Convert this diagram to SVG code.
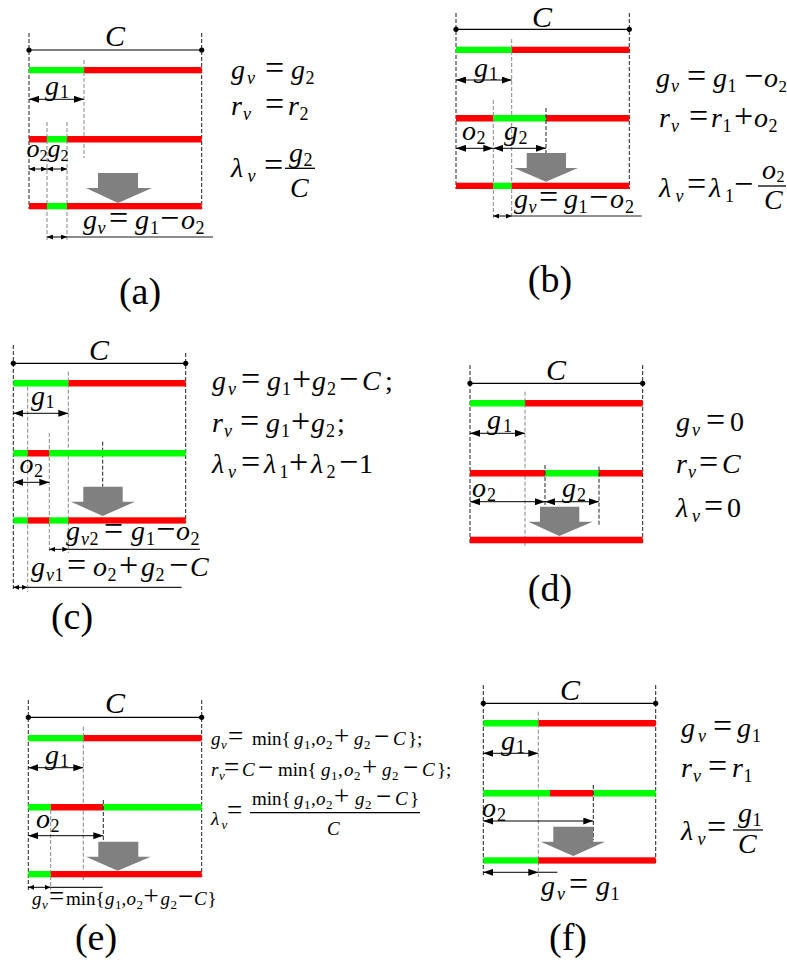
<svg xmlns="http://www.w3.org/2000/svg" width="787" height="962" viewBox="0 0 787 962">
<defs>
<marker id="ah" viewBox="0 0 10 7" refX="10" refY="3.5" markerWidth="10" markerHeight="7" markerUnits="userSpaceOnUse" orient="auto-start-reverse"><path d="M0,0 L10,3.5 L0,7 Z" fill="#000"/></marker>
<marker id="ahs" viewBox="0 0 6 5" refX="6" refY="2.5" markerWidth="6" markerHeight="5" markerUnits="userSpaceOnUse" orient="auto-start-reverse"><path d="M0,0 L6,2.5 L0,5 Z" fill="#000"/></marker>
<style>
.g{fill:#00ff00}
.r{fill:#ff0000}
.db{stroke:#222;stroke-width:1;stroke-dasharray:4 2;fill:none}
.di{stroke:#888;stroke-width:1;stroke-dasharray:4 2;fill:none}
.ck{stroke:#000;stroke-width:1.3}
.cg{stroke:#555;stroke-width:1.5}
.dot{fill:#000}
.ar{stroke:#000;stroke-width:1;marker-start:url(#ah);marker-end:url(#ah)}
.as{stroke:#000;stroke-width:1;marker-start:url(#ahs);marker-end:url(#ahs)}
.ln{stroke:#222;stroke-width:1.2}
.lg{stroke:#666;stroke-width:1.3}
.big{fill:#808080}
.fr{stroke:#000;stroke-width:1.3}
.eq{font-family:"Liberation Serif","Times New Roman",serif;font-size:28px;fill:#000}
.i{font-style:italic}
.s{font-size:18px}
.op{font-size:34px}
.sm{font-family:"Liberation Serif","Times New Roman",serif;font-size:19px;fill:#000}
.ss{font-size:13px}
.op2{font-size:27px}
.lbl{font-family:"Liberation Serif","Times New Roman",serif;font-size:30px;font-style:italic;text-anchor:middle}
.cap{font-family:"Liberation Serif","Times New Roman",serif;font-size:38px;text-anchor:middle}
</style>
</defs>

<!-- ================= (a) ================= -->
<g id="panel-a">
  <line class="db" x1="29" y1="33" x2="29" y2="209"/>
  <line class="db" x1="201.7" y1="33" x2="201.7" y2="209"/>
  <line class="cg" x1="29" y1="50" x2="201.7" y2="50"/>
  <circle class="dot" cx="29" cy="50" r="2.6"/><circle class="dot" cx="201.7" cy="50" r="2.6"/>
  <text class="lbl" x="115" y="45.5">C</text>
  <rect class="g" x="29" y="67" width="55" height="6.3"/><rect class="r" x="84" y="67" width="117.7" height="6.3"/>
  <line class="di" x1="84" y1="60" x2="84" y2="158"/>
  <line class="ar" x1="29" y1="99.3" x2="84" y2="99.3"/>
  <text class="eq"><tspan class="i" x="45" y="95">g</tspan><tspan class="s" x="60" y="98">1</tspan></text>
  <rect class="r" x="29" y="136" width="18" height="6.5"/><rect class="g" x="47" y="136" width="20" height="6.5"/><rect class="r" x="67" y="136" width="134.7" height="6.5"/>
  <line class="di" x1="47" y1="122" x2="47" y2="240"/>
  <line class="di" x1="67" y1="122" x2="67" y2="240"/>
  <text class="eq" style="font-size:26px"><tspan class="i" x="26.5" y="157">o</tspan><tspan style="font-size:16px" x="39.5" y="161">2</tspan><tspan class="i" x="47.5" y="157">g</tspan><tspan style="font-size:16px" x="60.5" y="161">2</tspan></text>
  <line class="as" x1="29" y1="169" x2="47" y2="169"/>
  <line class="as" x1="47" y1="169" x2="67" y2="169"/>
  <path class="big" d="M98,173 H138 V188 H152 L118,203 L86,188 H98 Z"/>
  <rect class="r" x="29" y="203" width="18" height="6.3"/><rect class="g" x="47" y="203" width="20" height="6.3"/><rect class="r" x="67" y="203" width="134.7" height="6.3"/>
  <line class="as" x1="47" y1="237" x2="67" y2="237"/>
  <line class="lg" x1="67" y1="237" x2="213" y2="237"/>
  <text class="eq"><tspan class="i" x="83" y="229">g</tspan><tspan class="i s" x="97.5" y="234">v</tspan><tspan class="op" x="109" y="229">=</tspan><tspan class="i" x="135" y="229">g</tspan><tspan class="s" x="150" y="234">1</tspan><tspan class="op" x="160" y="229">−</tspan><tspan class="i" x="181" y="229">o</tspan><tspan class="s" x="195.5" y="234">2</tspan></text>
  <text class="eq"><tspan class="i" x="231" y="79">g</tspan><tspan class="i s" x="247" y="84">v</tspan><tspan class="op" x="265" y="79">=</tspan><tspan class="i" x="291" y="79">g</tspan><tspan class="s" x="305.5" y="84">2</tspan></text>
  <text class="eq"><tspan class="i" x="231" y="115">r</tspan><tspan class="i s" x="243" y="120">v</tspan><tspan class="op" x="265" y="115">=</tspan><tspan class="i" x="288" y="115">r</tspan><tspan class="s" x="299.5" y="120">2</tspan></text>
  <text class="eq"><tspan class="i" x="231" y="177">λ</tspan><tspan class="i s" x="247.5" y="182">v</tspan><tspan class="op" x="264" y="176">=</tspan><tspan class="i" x="289" y="162">g</tspan><tspan class="s" x="303.5" y="166">2</tspan><tspan class="i" x="290" y="197">C</tspan></text>
  <line class="fr" x1="285" y1="168.3" x2="315" y2="168.3"/>
  <text class="cap" x="140" y="304">(a)</text>
</g>

<!-- ================= (b) ================= -->
<g id="panel-b">
  <line class="db" x1="456" y1="13" x2="456" y2="189"/>
  <line class="db" x1="629.3" y1="13" x2="629.3" y2="189"/>
  <line class="ck" x1="456" y1="29.3" x2="629.3" y2="29.3"/>
  <circle class="dot" cx="456" cy="29.3" r="2.6"/><circle class="dot" cx="629.3" cy="29.3" r="2.6"/>
  <text class="lbl" x="542" y="27">C</text>
  <rect class="g" x="456" y="46.7" width="55.7" height="6.3"/><rect class="r" x="511.7" y="46.7" width="117.6" height="6.3"/>
  <line class="di" x1="511.7" y1="39" x2="511.7" y2="218"/>
  <line class="ar" x1="456" y1="80" x2="511.7" y2="80"/>
  <text class="eq"><tspan class="i" x="474" y="77">g</tspan><tspan class="s" x="489" y="80">1</tspan></text>
  <rect class="r" x="456" y="115" width="37.3" height="6.5"/><rect class="g" x="493.3" y="115" width="52.7" height="6.5"/><rect class="r" x="546" y="115" width="83.3" height="6.5"/>
  <line class="di" x1="493.3" y1="100" x2="493.3" y2="220"/>
  <line class="db" x1="546" y1="108" x2="546" y2="153"/>
  <text class="eq"><tspan class="i" x="462" y="140">o</tspan><tspan class="s" x="476.5" y="144">2</tspan><tspan class="i" x="504" y="140">g</tspan><tspan class="s" x="518.5" y="144">2</tspan></text>
  <line class="ar" x1="456" y1="148.3" x2="493.3" y2="148.3"/>
  <line class="ar" x1="493.3" y1="148.3" x2="546" y2="148.3"/>
  <path class="big" d="M526.7,153 H566 V168 H578 L546,181.7 L514,168 H526.7 Z"/>
  <rect class="r" x="456" y="182.7" width="37.3" height="6.3"/><rect class="g" x="493.3" y="182.7" width="18.4" height="6.3"/><rect class="r" x="511.7" y="182.7" width="117.6" height="6.3"/>
  <line class="as" x1="493.3" y1="216" x2="511.7" y2="216"/>
  <line class="ln" x1="511.7" y1="216" x2="641.7" y2="216"/>
  <text class="eq"><tspan class="i" x="514" y="208">g</tspan><tspan class="i s" x="528.5" y="213">v</tspan><tspan class="op" x="539" y="208">=</tspan><tspan class="i" x="564" y="208">g</tspan><tspan class="s" x="578.5" y="213">1</tspan><tspan class="op" x="589" y="208">−</tspan><tspan class="i" x="610" y="208">o</tspan><tspan class="s" x="625" y="213">2</tspan></text>
  <text class="eq"><tspan class="i" x="656" y="87">g</tspan><tspan class="i s" x="671" y="92">v</tspan><tspan class="op" x="687" y="87">=</tspan><tspan class="i" x="713" y="87">g</tspan><tspan class="s" x="727.5" y="92">1</tspan><tspan class="op" x="744" y="87">−</tspan><tspan class="i" x="764" y="87">o</tspan><tspan class="s" x="778.5" y="92" style="font-size:17px">2</tspan></text>
  <text class="eq"><tspan class="i" x="659" y="127">r</tspan><tspan class="i s" x="671" y="132">v</tspan><tspan class="op" x="689" y="127">=</tspan><tspan class="i" x="711" y="127">r</tspan><tspan class="s" x="722.5" y="132">1</tspan><tspan class="op" x="734" y="127">+</tspan><tspan class="i" x="754" y="127">o</tspan><tspan class="s" x="768.5" y="132">2</tspan></text>
  <text class="eq"><tspan class="i" x="659" y="197">λ</tspan><tspan class="i s" x="675.5" y="202">v</tspan><tspan class="op" x="687" y="195">=</tspan><tspan class="i" x="709" y="197">λ</tspan><tspan class="s" x="725" y="202">1</tspan><tspan class="op" x="734" y="195">−</tspan><tspan class="i" x="762" y="179">o</tspan><tspan class="s" x="776.5" y="182" style="font-size:16px">2</tspan><tspan class="i" x="764" y="209">C</tspan></text>
  <line class="fr" x1="758" y1="186" x2="786" y2="186"/>
  <text class="cap" x="550" y="292">(b)</text>
</g>

<!-- ================= (c) ================= -->
<g id="panel-c">
  <line class="db" x1="13.3" y1="345" x2="13.3" y2="591"/>
  <line class="db" x1="185.7" y1="353" x2="185.7" y2="523"/>
  <line class="ck" x1="13.3" y1="363.3" x2="185.7" y2="363.3"/>
  <circle class="dot" cx="13.3" cy="363.3" r="2.6"/><circle class="dot" cx="185.7" cy="363.3" r="2.6"/>
  <text class="lbl" x="99" y="360">C</text>
  <rect class="g" x="13.3" y="380" width="55" height="6.5"/><rect class="r" x="68.3" y="380" width="117.4" height="6.5"/>
  <line class="di" x1="68.3" y1="371.7" x2="68.3" y2="553"/>
  <line class="di" x1="27.7" y1="386.7" x2="27.7" y2="592"/>
  <line class="di" x1="49.3" y1="433" x2="49.3" y2="553"/>
  <line class="db" x1="102.7" y1="441.7" x2="102.7" y2="486.7"/>
  <line class="ar" x1="13.3" y1="413.3" x2="68.3" y2="413.3"/>
  <text class="eq"><tspan class="i" x="31" y="405">g</tspan><tspan class="s" x="45.5" y="408">1</tspan></text>
  <rect class="g" x="13.3" y="450" width="14.4" height="6.5"/><rect class="r" x="27.7" y="450" width="21.6" height="6.5"/><rect class="g" x="49.3" y="450" width="136.4" height="6.5"/>
  <text class="eq"><tspan class="i" x="19.5" y="473">o</tspan><tspan class="s" x="34" y="477">2</tspan></text>
  <line class="ar" x1="13.3" y1="482.3" x2="49.3" y2="482.3"/>
  <path class="big" d="M83.3,486.7 H122.7 V501.7 H135 L102.7,516 L71,501.7 H83.3 Z"/>
  <rect class="g" x="13.3" y="517.3" width="14.4" height="6.3"/><rect class="r" x="27.7" y="517.3" width="21.6" height="6.3"/><rect class="g" x="49.3" y="517.3" width="19" height="6.3"/><rect class="r" x="68.3" y="517.3" width="117.4" height="6.3"/>
  <line class="as" x1="49.3" y1="549.3" x2="68.3" y2="549.3"/>
  <line class="ln" x1="68.3" y1="549.3" x2="200" y2="549.3"/>
  <text class="eq"><tspan class="i" x="66" y="540">g</tspan><tspan class="i s" x="81" y="545">v</tspan><tspan class="s" x="89.5" y="545">2</tspan><tspan class="op" x="104" y="540">=</tspan><tspan class="i" x="131" y="540">g</tspan><tspan class="s" x="146" y="545">1</tspan><tspan class="op" x="156" y="540">−</tspan><tspan class="i" x="176" y="540">o</tspan><tspan class="s" x="190.5" y="545">2</tspan></text>
  <line class="as" x1="13.3" y1="587.3" x2="27.7" y2="587.3"/>
  <line class="ln" x1="27.7" y1="587.3" x2="181.7" y2="587.3"/>
  <text class="eq"><tspan class="i" x="31" y="576">g</tspan><tspan class="i s" x="46" y="581">v</tspan><tspan class="s" x="54.5" y="581">1</tspan><tspan class="op" x="67" y="576">=</tspan><tspan class="i" x="93" y="576">o</tspan><tspan class="s" x="107.5" y="581">2</tspan><tspan class="op" x="119" y="576">+</tspan><tspan class="i" x="141" y="576">g</tspan><tspan class="s" x="155.5" y="581">2</tspan><tspan class="op" x="169" y="576">−</tspan><tspan class="i" x="190" y="576">C</tspan></text>
  <text class="eq"><tspan class="i" x="212" y="390">g</tspan><tspan class="i s" x="228" y="395">v</tspan><tspan class="op" x="241" y="390">=</tspan><tspan class="i" x="267" y="390">g</tspan><tspan class="s" x="282" y="395">1</tspan><tspan class="op" x="292" y="390">+</tspan><tspan class="i" x="312" y="390">g</tspan><tspan class="s" x="327" y="395">2</tspan><tspan class="op" x="339" y="390">−</tspan><tspan class="i" x="362" y="390">C</tspan><tspan x="385" y="390">;</tspan></text>
  <text class="eq"><tspan class="i" x="212" y="432">r</tspan><tspan class="i s" x="224" y="437">v</tspan><tspan class="op" x="240" y="432">=</tspan><tspan class="i" x="266" y="432">g</tspan><tspan class="s" x="281" y="437">1</tspan><tspan class="op" x="291" y="432">+</tspan><tspan class="i" x="311" y="432">g</tspan><tspan class="s" x="326" y="437">2</tspan><tspan x="337" y="432">;</tspan></text>
  <text class="eq"><tspan class="i" x="212" y="473">λ</tspan><tspan class="i s" x="228" y="478">v</tspan><tspan class="op" x="241" y="473">=</tspan><tspan class="i" x="264" y="473">λ</tspan><tspan class="s" x="279.5" y="478">1</tspan><tspan class="op" x="289" y="473">+</tspan><tspan class="i" x="311" y="473">λ</tspan><tspan class="s" x="326.5" y="478">2</tspan><tspan class="op" x="339" y="473">−</tspan><tspan x="359" y="473">1</tspan></text>
  <text class="cap" x="72" y="629">(c)</text>
</g>

<!-- ================= (d) ================= -->
<g id="panel-d">
  <line class="db" x1="470" y1="365" x2="470" y2="543"/>
  <line class="db" x1="642.7" y1="365" x2="642.7" y2="543"/>
  <line class="ck" x1="470" y1="383.3" x2="642.7" y2="383.3"/>
  <circle class="dot" cx="470" cy="383.3" r="2.6"/><circle class="dot" cx="642.7" cy="383.3" r="2.6"/>
  <text class="lbl" x="556" y="380">C</text>
  <rect class="g" x="470" y="400" width="55" height="6.5"/><rect class="r" x="525" y="400" width="117.7" height="6.5"/>
  <line class="di" x1="525" y1="391.7" x2="525" y2="546.7"/>
  <line class="ar" x1="470" y1="433.3" x2="525" y2="433.3"/>
  <text class="eq"><tspan class="i" x="487" y="429">g</tspan><tspan class="s" x="503" y="432">1</tspan></text>
  <rect class="r" x="470" y="470" width="75" height="6.5"/><rect class="g" x="545" y="470" width="54" height="6.5"/><rect class="r" x="599" y="470" width="43.7" height="6.5"/>
  <line class="db" x1="545" y1="465" x2="545" y2="506.7"/>
  <line class="db" x1="599" y1="466.7" x2="599" y2="525"/>
  <text class="eq"><tspan class="i" x="472" y="497">o</tspan><tspan class="s" x="487" y="501">2</tspan><tspan class="i" x="562" y="497">g</tspan><tspan class="s" x="577" y="501">2</tspan></text>
  <line class="ar" x1="470" y1="501.7" x2="545" y2="501.7"/>
  <line class="ar" x1="545" y1="501.7" x2="599" y2="501.7"/>
  <path class="big" d="M540,506.7 H579.3 V521.7 H592.7 L559.3,536 L528.3,521.7 H540 Z"/>
  <rect class="r" x="470" y="536.7" width="172.7" height="6.6"/>
  <text class="eq"><tspan class="i" x="676" y="431">g</tspan><tspan class="i s" x="692" y="436">v</tspan><tspan class="op" x="706" y="431">=</tspan><tspan x="730" y="431">0</tspan></text>
  <text class="eq"><tspan class="i" x="676" y="473">r</tspan><tspan class="i s" x="688" y="478">v</tspan><tspan class="op" x="699" y="473">=</tspan><tspan class="i" x="722" y="473">C</tspan></text>
  <text class="eq"><tspan class="i" x="676" y="517">λ</tspan><tspan class="i s" x="692" y="522">v</tspan><tspan class="op" x="704" y="517">=</tspan><tspan x="727" y="517">0</tspan></text>
  <text class="cap" x="550" y="601">(d)</text>
</g>

<!-- ================= (e) ================= -->
<g id="panel-e">
  <line class="db" x1="28.3" y1="700" x2="28.3" y2="890"/>
  <line class="db" x1="201.7" y1="700" x2="201.7" y2="877"/>
  <line class="ck" x1="28.3" y1="717.3" x2="201.7" y2="717.3"/>
  <circle class="dot" cx="28.3" cy="717.3" r="2.6"/><circle class="dot" cx="201.7" cy="717.3" r="2.6"/>
  <text class="lbl" x="115" y="713">C</text>
  <rect class="g" x="28.3" y="735" width="55" height="6.3"/><rect class="r" x="83.3" y="735" width="118.4" height="6.3"/>
  <line class="di" x1="83.3" y1="726.7" x2="83.3" y2="880"/>
  <line class="ar" x1="28.3" y1="767.7" x2="83.3" y2="767.7"/>
  <text class="eq"><tspan class="i" x="45" y="764">g</tspan><tspan class="s" x="60" y="767">1</tspan></text>
  <rect class="g" x="28.3" y="804" width="22.4" height="6.5"/><rect class="r" x="50.7" y="804" width="52.6" height="6.5"/><rect class="g" x="103.3" y="804" width="98.4" height="6.5"/>
  <line class="di" x1="50.7" y1="810" x2="50.7" y2="890"/>
  <line class="db" x1="103.3" y1="800" x2="103.3" y2="840"/>
  <text class="eq"><tspan class="i" x="36" y="828">o</tspan><tspan class="s" x="50.5" y="832">2</tspan></text>
  <line class="ar" x1="28.3" y1="835.7" x2="103.3" y2="835.7"/>
  <path class="big" d="M98.3,841.7 H138.3 V856.7 H150.7 L117.7,870.7 L86,856.7 H98.3 Z"/>
  <rect class="g" x="28.3" y="871" width="22.4" height="6.3"/><rect class="r" x="50.7" y="871" width="151" height="6.3"/>
  <line class="as" x1="28.3" y1="887.3" x2="50.7" y2="887.3"/>
  <line class="ln" x1="50.7" y1="887.3" x2="102.7" y2="887.3"/>
  <text class="sm"><tspan class="i" x="32" y="905">g</tspan><tspan class="i ss" x="42" y="909">v</tspan><tspan class="op2" x="49" y="905">=</tspan><tspan x="66" y="905">min{</tspan><tspan class="i" x="105" y="905">g</tspan><tspan class="ss" x="115" y="909">1</tspan><tspan x="121.5" y="905">,</tspan><tspan class="i" x="126.5" y="905">o</tspan><tspan class="ss" x="136.5" y="909">2</tspan><tspan class="op2" x="143.5" y="905">+</tspan><tspan class="i" x="160.5" y="905">g</tspan><tspan class="ss" x="170.5" y="909">2</tspan><tspan class="op2" x="178" y="905">−</tspan><tspan class="i" x="194" y="905">C</tspan><tspan x="207.5" y="905">}</tspan></text>
  <text class="sm"><tspan class="i" x="211" y="745">g</tspan><tspan class="i ss" x="221" y="749">v</tspan><tspan class="op2" x="228" y="745">=</tspan><tspan x="252" y="745">min{</tspan><tspan class="i" x="294" y="745">g</tspan><tspan class="ss" x="304" y="749">1</tspan><tspan x="311" y="745">,</tspan><tspan class="i" x="316" y="745">o</tspan><tspan class="ss" x="326" y="749">2</tspan><tspan class="op2" x="334" y="745">+</tspan><tspan class="i" x="354" y="745">g</tspan><tspan class="ss" x="364" y="749">2</tspan><tspan class="op2" x="374" y="745">−</tspan><tspan class="i" x="393" y="745">C</tspan><tspan x="408" y="745">};</tspan></text>
  <text class="sm"><tspan class="i" x="211" y="776">r</tspan><tspan class="i ss" x="219" y="780">v</tspan><tspan class="op2" x="224" y="776">=</tspan><tspan class="i" x="242" y="776">C</tspan><tspan class="op2" x="258" y="776">−</tspan><tspan x="278" y="776">min{</tspan><tspan class="i" x="321" y="776">g</tspan><tspan class="ss" x="331" y="780">1</tspan><tspan x="338" y="776">,</tspan><tspan class="i" x="344" y="776">o</tspan><tspan class="ss" x="354" y="780">2</tspan><tspan class="op2" x="362" y="776">+</tspan><tspan class="i" x="382" y="776">g</tspan><tspan class="ss" x="392" y="780">2</tspan><tspan class="op2" x="403" y="776">−</tspan><tspan class="i" x="422" y="776">C</tspan><tspan x="437" y="776">};</tspan></text>
  <text class="sm"><tspan class="i" x="211" y="825">λ</tspan><tspan class="i ss" x="221.5" y="829">v</tspan><tspan class="op2" x="227" y="819">=</tspan><tspan x="252" y="805">min{</tspan><tspan class="i" x="294" y="805">g</tspan><tspan class="ss" x="304" y="809">1</tspan><tspan x="311" y="805">,</tspan><tspan class="i" x="316" y="805">o</tspan><tspan class="ss" x="326" y="809">2</tspan><tspan class="op2" x="334" y="805">+</tspan><tspan class="i" x="355" y="805">g</tspan><tspan class="ss" x="365" y="809">2</tspan><tspan class="op2" x="376" y="805">−</tspan><tspan class="i" x="395" y="805">C</tspan><tspan x="410" y="805">}</tspan><tspan class="i" x="327" y="835">C</tspan></text>
  <line class="fr" x1="250" y1="812.7" x2="420" y2="812.7"/>
  <text class="cap" x="96" y="950">(e)</text>
</g>

<!-- ================= (f) ================= -->
<g id="panel-f">
  <line class="db" x1="483.3" y1="685" x2="483.3" y2="877"/>
  <line class="db" x1="655.7" y1="685" x2="655.7" y2="864"/>
  <line class="ck" x1="483.3" y1="703.3" x2="655.7" y2="703.3"/>
  <circle class="dot" cx="483.3" cy="703.3" r="2.6"/><circle class="dot" cx="655.7" cy="703.3" r="2.6"/>
  <text class="lbl" x="570" y="700">C</text>
  <rect class="g" x="483.3" y="720" width="55" height="6.5"/><rect class="r" x="538.3" y="720" width="117.4" height="6.5"/>
  <line class="di" x1="538.3" y1="711.7" x2="538.3" y2="877"/>
  <line class="ar" x1="483.3" y1="753.3" x2="538.3" y2="753.3"/>
  <text class="eq"><tspan class="i" x="501" y="750">g</tspan><tspan class="s" x="516" y="753">1</tspan></text>
  <rect class="g" x="483.3" y="790" width="66.7" height="6.5"/><rect class="r" x="550" y="790" width="43.3" height="6.5"/><rect class="g" x="593.3" y="790" width="62.4" height="6.5"/>
  <line class="db" x1="593.3" y1="785" x2="593.3" y2="840"/>
  <text class="eq"><tspan class="i" x="482" y="817">o</tspan><tspan class="s" x="497" y="821">2</tspan></text>
  <line class="ar" x1="483.3" y1="821" x2="593.3" y2="821"/>
  <path class="big" d="M553.3,826.7 H593.3 V841.7 H605 L573.3,856 L540.7,841.7 H553.3 Z"/>
  <rect class="g" x="483.3" y="857.3" width="55" height="6.3"/><rect class="r" x="538.3" y="857.3" width="117.4" height="6.3"/>
  <line class="ar" x1="483.3" y1="872.3" x2="538.3" y2="872.3"/>
  <line class="ln" x1="538.3" y1="872.3" x2="557.3" y2="872.3"/>
  <text class="eq"><tspan class="i" x="541" y="895">g</tspan><tspan class="i s" x="557" y="900">v</tspan><tspan class="op" x="569" y="895">=</tspan><tspan class="i" x="596" y="895">g</tspan><tspan class="s" x="610.5" y="900">1</tspan></text>
  <text class="eq"><tspan class="i" x="681" y="737">g</tspan><tspan class="i s" x="698" y="742">v</tspan><tspan class="op" x="713" y="737">=</tspan><tspan class="i" x="737" y="737">g</tspan><tspan class="s" x="752" y="742">1</tspan></text>
  <text class="eq"><tspan class="i" x="681" y="777">r</tspan><tspan class="i s" x="693" y="782">v</tspan><tspan class="op" x="708" y="777">=</tspan><tspan class="i" x="732" y="777">r</tspan><tspan class="s" x="743.5" y="782">1</tspan></text>
  <text class="eq"><tspan class="i" x="681" y="840">λ</tspan><tspan class="i s" x="697.5" y="845">v</tspan><tspan class="op" x="707" y="838">=</tspan><tspan class="i" x="738" y="822">g</tspan><tspan class="s" x="752.5" y="826">1</tspan><tspan class="i" x="738" y="853">C</tspan></text>
  <line class="fr" x1="733" y1="830" x2="763" y2="830"/>
  <text class="cap" x="568" y="950">(f)</text>
</g>
</svg>
